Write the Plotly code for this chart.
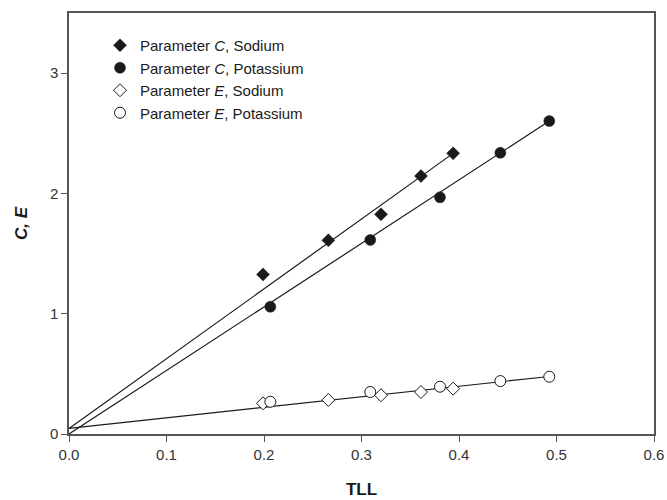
import plotly.graph_objects as go

# Data
tll_sodium = [0.199, 0.266, 0.320, 0.361, 0.394]
c_sodium = [1.327, 1.610, 1.826, 2.145, 2.333]
e_sodium = [0.255, 0.283, 0.322, 0.349, 0.377]

tll_potassium = [0.2065, 0.309, 0.3805, 0.4424, 0.4926]
c_potassium = [1.058, 1.613, 1.968, 2.338, 2.602]
e_potassium = [0.268, 0.349, 0.393, 0.440, 0.476]

# Fitted lines (start and end values)
fit_c_sodium_x = [0.0, 0.394]
fit_c_sodium_y = [0.045, 2.333]
fit_c_potassium_x = [0.0, 0.4926]
fit_c_potassium_y = [0.0, 2.602]
fit_e_x = [0.0, 0.4926]
fit_e_y = [0.047, 0.478]

x_ticks = [0.0, 0.1, 0.2, 0.3, 0.4, 0.5, 0.6]
y_ticks = [0, 1, 2, 3]

FONT = "Liberation Sans, Arial, sans-serif"

fig = go.Figure()

line_style = dict(color="#1a1a1a", width=1.2)
for fx, fy in [(fit_c_sodium_x, fit_c_sodium_y),
               (fit_c_potassium_x, fit_c_potassium_y),
               (fit_e_x, fit_e_y)]:
    fig.add_trace(go.Scatter(x=fx, y=fy, mode="lines", line=line_style,
                             showlegend=False, hoverinfo="skip"))

fig.add_trace(go.Scatter(
    x=tll_sodium, y=c_sodium, mode="markers",
    name="Parameter <i>C</i>, Sodium",
    marker=dict(symbol="diamond", size=10, color="#1a1a1a",
                line=dict(color="#1a1a1a", width=0.5))))
fig.add_trace(go.Scatter(
    x=tll_potassium, y=c_potassium, mode="markers",
    name="Parameter <i>C</i>, Potassium",
    marker=dict(symbol="circle", size=11, color="#1a1a1a",
                line=dict(color="#1a1a1a", width=0.5))))
fig.add_trace(go.Scatter(
    x=tll_sodium, y=e_sodium, mode="markers",
    name="Parameter <i>E</i>, Sodium",
    marker=dict(symbol="diamond", size=10, color="white",
                line=dict(color="#1a1a1a", width=1))))
fig.add_trace(go.Scatter(
    x=tll_potassium, y=e_potassium, mode="markers",
    name="Parameter <i>E</i>, Potassium",
    marker=dict(symbol="circle", size=11, color="white",
                line=dict(color="#1a1a1a", width=1))))

axis_common = dict(
    showgrid=False, zeroline=False, showline=True, mirror=True,
    linecolor="#555555", linewidth=1.5, automargin=False,
    ticks="outside", ticklen=6, tickwidth=1.2, tickcolor="#555555",
    tickfont=dict(family=FONT, size=15, color="#333333"),
)

fig.update_xaxes(
    range=[0, 0.6], tickvals=x_ticks,
    ticktext=[f"{v:.1f}" for v in x_ticks],
    title=dict(text="<b>TLL</b>", font=dict(family=FONT, size=17, color="#1a1a1a"),
               standoff=21),
    **axis_common)
fig.update_yaxes(
    range=[0, 3.5], tickvals=y_ticks,
    ticktext=[str(v) for v in y_ticks],
    title=dict(text="<b><i>C, E</i></b>", font=dict(family=FONT, size=17, color="#1a1a1a"),
               standoff=18),
    **axis_common)

fig.update_layout(
    width=667, height=500,
    margin=dict(l=69, r=13, t=13, b=66),
    plot_bgcolor="white", paper_bgcolor="white",
    font=dict(family=FONT, color="#1a1a1a"),
    legend=dict(x=0.053, y=0.962, xanchor="left", yanchor="top",
                bgcolor="rgba(0,0,0,0)", borderwidth=0,
                font=dict(family=FONT, size=15, color="#1a1a1a"),
                tracegroupgap=0, itemwidth=30),
    showlegend=True,
)

fig.write_html("out.html")
